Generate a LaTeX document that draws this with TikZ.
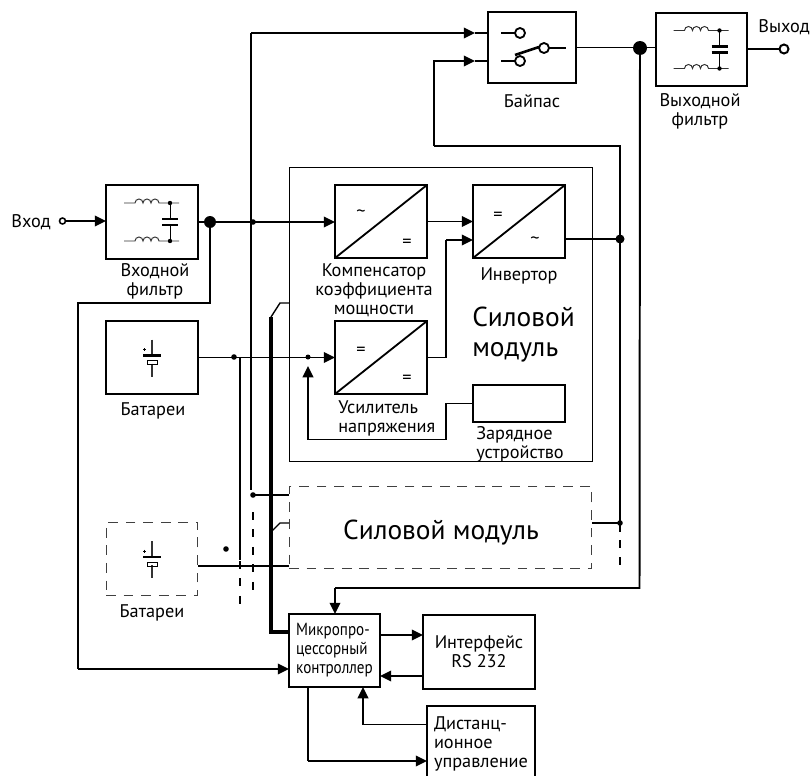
\documentclass[tikz,border=0pt]{standalone}
\usepackage{fontspec}
\setmainfont{PT Sans}
\newfontfamily\ctlfont[FakeStretch=0.86]{PT Sans}
\usetikzlibrary{arrows.meta}
\tikzset{
	box/.style={draw, line width=1.3pt, inner sep=0, outer sep=0, font=\fontsize{13}{13.5}\selectfont},
	ghost/.style={draw, color=black!75, line width=0.7pt, dash pattern=on 7pt off 5.5pt, inner sep=0, outer sep=0},
	lbl/.style={inner sep=0, yshift=-1.4pt, align=center, font=\fontsize{13}{13.5}\selectfont},
	biglbl/.style={inner sep=0, yshift=-1.6pt, align=left, font=\fontsize{19.5}{21.5}\selectfont},
	wire/.style={line width=1.4pt},
	arr/.style={line width=1.4pt, -{Triangle[length=8pt,width=7.5pt]}},
	tick/.style={line width=1.4pt, dash pattern=on 5.7pt off 6.7pt},
	sym/.style={line width=0.7pt, color=black!80}
}
\def\filtersym(#1,#2){
	\begin{scope}[shift={(#1,#2)}]
		\foreach \yy in {-19,19} {
			\draw[sym] (-28,\yy) -- (-17,\yy) arc (180:360:4) arc (180:360:4) arc (180:360:4) -- (27,\yy);
			\fill (18,\yy) circle (2.2);
		}
		\draw[line width=0.7pt] (18,-19) -- (18,19);
		\fill[white] (9,-3) rectangle (27,3);
		\draw[line width=1.5pt] (10,-3) -- (26,-3);
		\draw[line width=1.5pt] (10,3) -- (26,3);
	\end{scope}
}
\def\batsym(#1,#2){
	\begin{scope}[shift={(#1,#2)}]
		\draw[sym,line width=0.8pt] (0,-18) -- (0,-2);
		\draw[line width=1.5pt] (-9,-2) -- (9,-2);
		\draw[sym,line width=0.8pt] (0,6) -- (0,19);
		\draw[line width=0.6pt] (-5,3) rectangle (5,7);
		\draw[line width=0.5pt] (-9,-8) -- (-6,-8) (-7.5,-9.5) -- (-7.5,-6.5);
	\end{scope}
}
\def\convsym(#1){\draw[line width=1.3pt] (#1.south west) -- (#1.north east);}

\begin{document}
\begin{tikzpicture}[x=0.025cm, y=-0.025cm]
	\useasboundingbox (0,0) rectangle (811,776);
	%%%%% START %%%%%

	% blocks
	\node[box, minimum width=65.4pt, minimum height=52.6pt] (infilter) at (152,222) {};
	\node[box, minimum width=65.4pt, minimum height=51.9pt] (bat) at (152,357.5) {};
	\node[ghost, minimum width=65.4pt, minimum height=52.6pt] (batb) at (152,559) {};
	\node[box, minimum width=62.6pt, minimum height=50.5pt] (bypass) at (532,47.5) {};
	\node[box, minimum width=64.7pt, minimum height=51.9pt] (outfilter) at (701.5,49.5) {};
	\node[box, minimum width=65.4pt, minimum height=51.9pt] (pfc) at (381,221.5) {};
	\node[box, minimum width=65.4pt, minimum height=51.9pt] (inverter) at (519,221.5) {};
	\node[box, minimum width=65.4pt, minimum height=51.9pt] (booster) at (381,357.5) {};
	\node[box, minimum width=65.4pt, minimum height=26.3pt] (charger) at (519,403.5) {};
	\node[draw, line width=0.6pt, minimum width=215.4pt, minimum height=209pt, inner sep=0, outer sep=0] (module) at (440.5,314) {};
	\node[ghost, minimum width=215.4pt, minimum height=58.3pt] (moduleb) at (440.5,527.5) {};
	\node[box, fill=white, minimum width=64.7pt, minimum height=51.9pt, align=left, font=\fontsize{12.5}{13.5}\selectfont] (ctl) at (334.5,650.5) {\ctlfont Микропро-\\\ctlfont цессорный\\\ctlfont контроллер};
	\node[box, minimum width=79.6pt, minimum height=52.6pt, align=center] (iface) at (479,652) {Интерфейс\\RS 232};
	\node[inner sep=0, outer sep=0, minimum width=76.8pt, minimum height=49.8pt] (remote) at (481,741) {};
	\draw[box] (remote.south west) -- (remote.north west) -- (remote.north east) -- (remote.south east);
	\node[lbl, align=left] (remotelbl) at (481,742) {Дистанц-\\ионное\\управление};

	% symbols
	\filtersym(152,222)
	\filtersym(701.5,49.5)
	\batsym(152,357.5)
	\batsym(152,559)
	\convsym(pfc)
	\convsym(inverter)
	\convsym(booster)
	\node[lbl] (pfca) at (361,212) {\textasciitilde};
	\node[lbl] (pfcb) at (407,241) {=};
	\node[lbl] (inva) at (498,214) {=};
	\node[lbl] (invb) at (535,239) {\textasciitilde};
	\node[lbl] (boosta) at (361,349) {=};
	\node[lbl] (boostb) at (407,377) {=};

	% bypass switch
	\draw[wire, line width=1.1pt] (501,33) -- (515,33);
	\draw[wire, line width=1.1pt] (501,61) -- (515,61);
	\draw[wire, line width=1.1pt] (549,48) -- (565.5,48);
	\draw[line width=1.3pt] (520,33) circle (5);
	\draw[line width=1.3pt] (520,61) circle (5);
	\draw[line width=1.3pt] (544,48) circle (5);
	\draw[line width=1.9pt] (515,55) -- (539,47);

	% ports and junctions
	\node[lbl] (inlbl) at (31,220) {Вход};
	\node[lbl] (outlbl) at (784,25) {Выход};
	\coordinate (inport) at (62.5,221);
	\coordinate (outport) at (784,49);
	\coordinate (injn) at (210,222);
	\coordinate (outjn) at (640,48);
	\coordinate (batjn) at (234,357);
	\coordinate (boostjn) at (308,357);
	\coordinate (sensejn) at (253,222);
	\coordinate (invjn) at (620,239);
	\coordinate (invjnb) at (620,523);
	\coordinate (sensejnb) at (253,495);

	% input side
	\draw[arr] (inport) -- (infilter.west |- inport);
	\draw[line width=1.1pt, fill=white] (inport) circle (3);
	\draw[arr] (infilter.east) -- (pfc.west |- infilter.east);
	\draw[wire] (injn) -- (210,303) -- (78,303) -- (78,669);
	\draw[arr] (78,669) -- (ctl.west |- 78,669);
	\draw[arr] (bat.east) -- (booster.west);

	% sense lines
	\draw[wire] (251,222) -- (251,33);
	\draw[arr] (251,33) -- (475,33);
	\draw[wire] (475,33) -- (bypass.west |- 475,33);
	\draw[wire] (251,222) -- (251,490);
	\draw[wire] (240,357) -- (240,560);
	\draw[tick] (240,561) -- (240,604);
	\draw[wire] (sensejnb) -- (moduleb.west |- sensejnb);
	\draw[tick] (253,512) -- (253,590);
	\draw[wire] (batb.east |- 0,566) -- (moduleb.west |- 0,566);

	% control bus
	\draw[line width=2.6pt] (271,317) -- (271,632) -- (ctl.west |- 0,632);
	\draw[line width=1pt] (271,317) -- (280,303) -- (module.west |- 0,303);
	\draw[line width=1pt] (271,532) -- (280,523) -- (moduleb.west |- 0,523);

	% power module
	\draw[arr] (pfc.east) -- (inverter.west |- pfc.east);
	\draw[wire] (booster.east) -- (446,357.5) -- (446,240);
	\draw[arr] (446,240) -- (inverter.west |- 0,240);
	\draw[wire] (inverter.east |- 0,239) -- (invjn);
	\draw[wire] (charger.west) -- (446,403.5) -- (446,439.5) -- (308,439.5);
	\draw[arr] (308,439.5) -- (308,366);
	\draw[wire] (moduleb.east |- invjnb) -- (invjnb);

	% output side
	\draw[wire] (bypass.east) -- (outfilter.west |- bypass.east);
	\draw[wire] (outfilter.east |- outport) -- (outport);
	\draw[line width=1.4pt, fill=white] (outport) circle (4.5);
	\draw[arr] (434,146) -- (434,61) -- (475,61);
	\draw[wire] (475,61) -- (bypass.west |- 475,61);
	\draw[wire] (434,146) -- (620,146) -- (620,532);
	\draw[tick] (620,540) -- (620,566);
	\draw[wire] (outjn) -- (639.5,588) -- (335,588);
	\draw[arr] (335,588) -- (335,614);

	% controller links
	\draw[arr] (ctl.east |- 0,635) -- (iface.west |- 0,635);
	\draw[arr] (iface.west |- 0,676) -- (ctl.east |- 0,676);
	\draw[wire] (remote.west |- 0,724.5) -- (363,724.5);
	\draw[arr] (363,724.5) -- (363,687);
	\draw[wire] (308,687) -- (308,761);
	\draw[arr] (308,761) -- (remote.west |- 0,761);

	% dots
	\fill (injn) circle (6);
	\fill (outjn) circle (7);
	\fill (sensejn) circle (2.8);
	\fill (batjn) circle (2.8);
	\fill (boostjn) circle (2.5);
	\fill (invjn) circle (4.5);
	\fill (invjnb) circle (2.8);
	\fill (sensejnb) circle (2.8);
	\fill (226,549) circle (2.8);

	% captions
	\node[lbl] (infilterlbl) at (155,279.5) {Входной\\фильтр};
	\node[lbl] (batlbl) at (153,409) {Батареи};
	\node[lbl] (batblbl) at (152,611) {Батареи};
	\node[lbl] (bypasslbl) at (532,99) {Байпас};
	\node[lbl] (outfilterlbl) at (700,109.5) {Выходной\\фильтр};
	\node[lbl] (pfclbl) at (374,288.5) {Компенсатор\\коэффициента\\мощности};
	\node[lbl] (invlbl) at (519,274) {Инвертор};
	\node[lbl, align=left, anchor=west] (boostlbl) at (338,416.5) {Усилитель\\напряжения};
	\node[lbl, align=left, anchor=west] (chargerlbl) at (476,442.5) {Зарядное\\устройство};
	\node[biglbl, anchor=west] (modlbl) at (472,332) {Силовой\\модуль};
	\node[biglbl] (modblbl) at (441,530) {Силовой модуль};

	%%%%% END %%%%%
\end{tikzpicture}
\end{document}
